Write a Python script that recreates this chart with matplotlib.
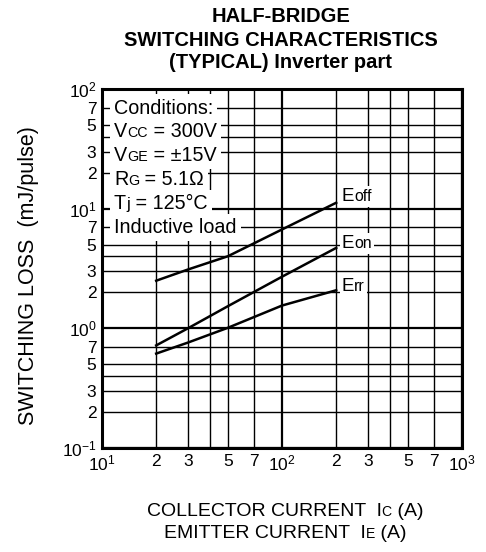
import matplotlib
matplotlib.use("Agg")
import matplotlib.pyplot as plt
from matplotlib.offsetbox import TextArea, HPacker, AnnotationBbox

plt.rcParams["font.family"] = ["Liberation Sans", "DejaVu Sans"]
plt.rcParams["mathtext.fontset"] = "custom"
plt.rcParams["mathtext.rm"] = "Liberation Sans"
plt.rcParams["mathtext.default"] = "regular"

# data
current = [20, 30, 50, 100, 200]
e_off = [2.5, 3.1, 4.0, 6.7, 11.2]
e_on = [0.72, 1.0, 1.53, 2.7, 4.7]
e_rr = [0.615, 0.76, 1.01, 1.55, 2.08]

x_major = [10, 100, 1000]
x_major_labels = ["$10^{1}$", "$10^{2}$", "$10^{3}$"]
x_minor = [20, 30, 40, 50, 70, 200, 300, 400, 500, 700]
x_minor_labels = ["2", "3", "", "5", "7", "2", "3", "", "5", "7"]
y_major = [0.1, 1, 10, 100]
y_major_labels = ["$10^{-1}$", "$10^{0}$", "$10^{1}$", "$10^{2}$"]
y_minor = [0.2, 0.3, 0.4, 0.5, 0.7, 2, 3, 4, 5, 7, 20, 30, 40, 50, 70]
y_minor_labels = ["2", "3", "", "5", "7"] * 3

conditions = [
    [("Conditions:", 0)],
    [("V", 0), ("CC", 1), (" = 300V", 0)],
    [("V", 0), ("GE", 1), (" = \u00b115V", 0)],
    [("R", 0), ("G", 1), (" = 5.1\u03a9", 0)],
    [("T", 0), ("j", 2), (" = 125\u00b0C", 0)],
    [("Inductive load", 0)],
]

# relative sizes of the small (subscript-like) letters
scale = {0: 1.0, 1: 0.72, 2: 0.85}


def rich(parts, big):
    kids = []
    for txt, s in parts:
        kids.append(TextArea(txt, textprops=dict(fontsize=big * scale[s], color="black")))
    return HPacker(children=kids, align="baseline", pad=0, sep=0)


def put(target, parts, xy, coords, big, align=(0, 0.5), frame=True, pad=0.15):
    ab = AnnotationBbox(rich(parts, big), xy, xycoords=coords,
                        box_alignment=align, frameon=frame, pad=pad,
                        bboxprops=dict(fc="white", ec="none"), zorder=6)
    target.add_artist(ab)


fig = plt.figure(figsize=(4.86, 5.52), dpi=100)
ax = fig.add_axes([0.2099, 0.1884, 0.7407, 0.6504])
ax.set_xscale("log")
ax.set_yscale("log")
ax.set_xlim(10, 1000)
ax.set_ylim(0.1, 100)

ax.set_xticks(x_major, x_major_labels)
ax.set_xticks(x_minor, x_minor_labels, minor=True)
ax.set_yticks(y_major, y_major_labels)
ax.set_yticks(y_minor, y_minor_labels, minor=True)
ax.tick_params(which="both", length=0, labelsize=12.5)
ax.tick_params(axis="x", which="both", pad=4)
ax.tick_params(axis="y", which="both", pad=4)

ax.grid(which="major", color="black", linewidth=1.6)
ax.grid(which="minor", color="black", linewidth=1.0)
for sp in ax.spines.values():
    sp.set_linewidth(2.2)

for ys in (e_off, e_on, e_rr):
    ax.plot(current, ys, color="black", linewidth=1.8, zorder=4)

for i, parts in enumerate(conditions):
    put(ax, parts, (0.033, 0.947 - i * 0.0665), "axes fraction", big=14.2, pad=0.3)

put(ax, [("E", 0), ("off", 2)], (215, 12.6), "data", big=13.5)
put(ax, [("E", 0), ("on", 2)], (215, 5.1), "data", big=13.5)
put(ax, [("E", 0), ("rr", 2)], (215, 2.24), "data", big=13.5)

for txt, yy in [("HALF-BRIDGE", 21.5), ("SWITCHING CHARACTERISTICS", 46),
                ("(TYPICAL) Inverter part", 68.5)]:
    fig.text(0.578, 1 - yy / 552, txt, ha="center", va="baseline",
             fontsize=14.5, fontweight="bold")

fig.text(29 / 486, 1 - 276 / 552, "SWITCHING LOSS  (mJ/pulse)", rotation=90,
         ha="center", va="center", fontsize=15.5)

put(fig, [("COLLECTOR CURRENT  I", 0), ("C", 1), (" (A)", 0)],
    (285 / 486, 1 - 512 / 552), "figure fraction", big=14, align=(0.5, 0.5), frame=False)
put(fig, [("EMITTER CURRENT  I", 0), ("E", 1), (" (A)", 0)],
    (285 / 486, 1 - 534 / 552), "figure fraction", big=14, align=(0.5, 0.5), frame=False)

fig.savefig("out.png", dpi=100)
